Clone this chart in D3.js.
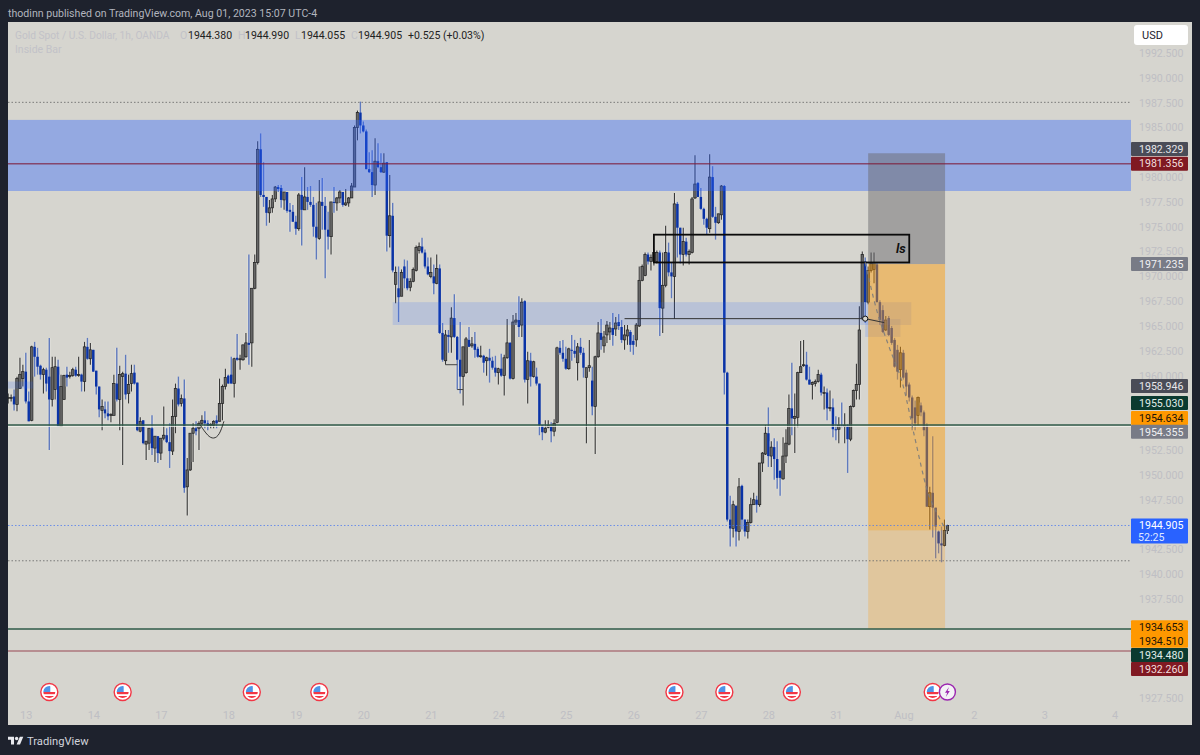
<!DOCTYPE html>
<html>
<head>
<meta charset="utf-8">
<title>XAUUSD 1h</title>
<script src="https://cdn.jsdelivr.net/npm/d3@7"></script>
<style>
  html, body { margin: 0; padding: 0; background: #1e222d; }
  svg { display: block; font-family: Roboto, "Noto Sans", sans-serif; }
</style>
</head>
<body>
<script>
// Set up data: hourly bars
const opens = [
  1957.7,1957.7,1957.9,1957.1,1958.7,1959.7,1960.4,1957.4,1955.5,1962.9,
  1961.9,1961.0,1960.1,1960.6,1959.9,1957.6,1958.6,1960.9,1954.9,1957.6,
  1960.1,1959.9,1960.0,1960.6,1960.0,1960.1,1959.4,1962.9,1961.7,1962.6,
  1960.5,1958.9,1956.5,1956.6,1956.2,1956.0,1956.0,1959.2,1957.6,1959.9,
  1960.2,1958.2,1959.2,1960.3,1959.3,1954.4,1955.5,1953.1,1953.2,1954.7,
  1952.7,1953.9,1952.2,1953.7,1954.0,1953.3,1952.4,1955.9,1958.7,1957.2,
  1957.7,1948.8,1950.5,1954.2,1954.7,1954.7,1955.2,1955.5,1955.2,1955.0,
  1955.0,1955.5,1955.4,1957.2,1958.9,1960.0,1960.1,1959.2,1961.8,1961.6,
  1961.6,1961.9,1963.3,1963.3,1968.8,1971.4,1982.8,1978.2,1978.0,1976.4,
  1976.9,1977.8,1979.0,1978.9,1977.7,1978.5,1976.7,1976.5,1975.5,1974.8,
  1978.2,1976.7,1978.0,1977.5,1977.2,1975.0,1973.8,1977.5,1977.1,1974.7,
  1974.0,1977.5,1977.4,1977.9,1978.5,1977.2,1977.4,1977.9,1979.0,1985.0,
  1986.5,1985.2,1984.6,1980.8,1980.5,1979.2,1981.6,1981.0,1980.5,1981.5,
  1974.1,1976.1,1969.2,1968.8,1968.0,1971.0,1969.8,1968.9,1969.5,1970.6,
  1972.6,1973.0,1972.4,1971.0,1970.0,1970.0,1969.3,1970.8,1964.3,1961.5,
  1964.1,1963.9,1965.8,1963.9,1961.6,1959.9,1960.3,1963.6,1963.0,1963.2,
  1962.7,1961.9,1962.0,1961.5,1961.8,1961.5,1960.8,1960.3,1960.7,1960.0,
  1961.8,1963.3,1959.7,1965.4,1965.6,1965.1,1967.5,1959.6,1961.5,1959.9,
  1959.9,1959.2,1955.0,1954.3,1954.8,1954.9,1954.4,1955.3,1962.8,1962.3,
  1961.7,1960.7,1962.6,1962.5,1961.3,1962.9,1962.3,1959.8,1960.8,1959.5,
  1956.9,1961.9,1964.3,1963.0,1964.1,1964.4,1964.8,1964.7,1965.4,1964.9,
  1963.6,1964.0,1964.4,1963.5,1963.6,1965.0,1969.6,1970.1,1972.2,1971.5,
  1971.5,1971.5,1972.4,1966.8,1969.1,1972.4,1970.4,1970.0,1977.3,1974.9,
  1972.2,1973.5,1972.2,1972.4,1977.9,1979.4,1978.0,1976.8,1975.8,1974.8,
  1980.0,1976.0,1975.4,1976.2,1979.1,1960.3,1945.5,1944.6,1946.9,1944.3,
  1948.9,1945.5,1944.3,1945.2,1947.0,1947.5,1947.0,1951.2,1952.1,1954.2,
  1951.9,1952.8,1951.6,1950.4,1949.6,1951.9,1953.1,1956.7,1955.7,1955.8,
  1960.3,1961.0,1961.1,1959.6,1959.1,1959.2,1959.4,1960.1,1958.2,1958.3,
  1956.7,1956.8,1954.6,1954.6,1955.0,1954.9,1955.0,1953.6,1956.9,1958.5,
  1959.1,1965.8,1971.5,1967.4,1970.6,1970.7,1971.2,1967.4,1966.6,1964.6,
  1965.8,1964.8,1963.6,1962.6,1960.6,1962.3,1960.3,1959.1,1957.8,1956.8,
  1956.0,1957.0,1956.3,1955.0,1946.8,1948.2,1946.7,1944.3,1943.1,1942.9,
  1944.38
];
const highs = [
  1958.2,1958.1,1958.6,1959.9,1961.8,1961.1,1962.3,1958.4,1963.0,1963.4,
  1962.8,1961.1,1960.8,1960.8,1963.8,1961.9,1961.9,1961.6,1960.1,1960.1,
  1960.9,1960.4,1960.8,1960.9,1961.9,1960.2,1963.4,1963.8,1963.3,1962.6,
  1960.5,1958.9,1957.6,1957.4,1957.4,1956.2,1960.1,1962.8,1961.0,1960.4,
  1962.1,1960.1,1961.1,1961.1,1959.3,1955.8,1955.5,1953.4,1954.7,1956.0,
  1953.9,1953.9,1953.7,1956.9,1954.7,1955.2,1957.6,1959.2,1959.9,1958.1,
  1959.6,1951.7,1954.2,1955.2,1955.4,1955.4,1956.0,1956.4,1955.5,1955.2,
  1955.5,1956.0,1959.7,1959.1,1960.7,1960.1,1961.9,1961.8,1964.2,1962.1,
  1963.1,1964.3,1972.2,1968.8,1972.2,1983.6,1984.4,1981.5,1978.0,1977.7,
  1978.2,1979.1,1979.2,1979.2,1978.5,1978.5,1977.4,1977.2,1976.1,1978.4,
  1980.0,1981.0,1979.0,1979.1,1978.0,1977.4,1979.7,1979.9,1978.0,1976.5,
  1977.5,1979.0,1978.0,1978.7,1978.5,1978.8,1978.0,1979.4,1985.2,1986.7,
  1987.6,1985.6,1984.8,1982.5,1982.7,1983.9,1983.4,1982.4,1982.4,1981.5,
  1980.2,1977.4,1971.0,1971.0,1970.7,1971.7,1971.6,1969.8,1970.9,1973.1,
  1973.4,1973.9,1972.7,1971.9,1971.9,1971.2,1972.2,1971.2,1965.3,1964.6,
  1964.6,1966.9,1968.2,1964.0,1965.4,1962.9,1963.9,1964.9,1963.9,1964.4,
  1962.9,1963.0,1962.1,1961.9,1962.7,1961.9,1962.0,1960.8,1962.2,1962.1,
  1965.7,1963.4,1966.1,1966.3,1968.0,1967.8,1967.6,1962.4,1962.3,1961.5,
  1960.8,1959.2,1955.0,1955.5,1955.5,1955.3,1955.6,1962.9,1963.5,1963.6,
  1962.9,1962.8,1964.1,1963.6,1963.3,1963.8,1962.8,1960.8,1963.6,1960.9,
  1962.0,1965.4,1965.7,1964.5,1965.5,1965.4,1966.3,1965.9,1966.2,1965.6,
  1965.1,1965.1,1964.6,1964.1,1965.3,1971.0,1971.2,1972.4,1972.4,1972.2,
  1972.7,1972.6,1972.6,1972.4,1975.1,1973.4,1971.4,1978.4,1977.5,1974.9,
  1974.9,1973.9,1972.7,1978.0,1982.2,1979.5,1978.9,1976.9,1975.9,1982.3,
  1981.1,1977.0,1976.3,1979.2,1979.2,1960.4,1947.9,1947.4,1946.9,1949.7,
  1949.0,1945.5,1945.5,1947.7,1948.2,1947.9,1951.2,1952.3,1955.0,1956.8,
  1953.4,1953.7,1953.4,1950.5,1953.8,1954.6,1958.1,1961.3,1958.2,1960.4,
  1963.5,1963.6,1962.4,1960.9,1959.4,1959.6,1960.6,1960.3,1958.9,1958.7,
  1958.5,1957.7,1955.9,1955.8,1957.3,1956.2,1955.1,1957.0,1958.6,1961.2,
  1967.0,1972.5,1971.9,1971.0,1972.4,1972.4,1971.4,1967.6,1967.1,1966.0,
  1966.0,1965.0,1963.8,1963.1,1962.9,1962.6,1960.6,1959.3,1958.0,1957.5,
  1957.9,1957.3,1956.5,1955.2,1948.8,1953.9,1946.7,1944.4,1944.8,1945.5,
  1944.99
];
const lows = [
  1957.2,1957.4,1956.5,1956.4,1958.7,1958.9,1957.2,1955.4,1955.4,1959.9,
  1960.1,1959.6,1958.2,1958.4,1952.5,1956.9,1957.6,1954.9,1954.9,1957.6,
  1958.9,1959.7,1959.9,1959.9,1959.9,1958.4,1958.4,1961.6,1961.1,1960.4,
  1958.1,1955.8,1954.5,1955.7,1955.5,1955.3,1956.0,1957.4,1954.5,1951.0,
  1957.6,1957.2,1958.4,1959.1,1954.4,1954.3,1953.1,1951.5,1952.5,1952.0,
  1951.3,1951.2,1951.5,1953.5,1953.2,1950.7,1952.0,1954.2,1956.9,1956.9,
  1948.2,1945.9,1950.4,1951.3,1954.0,1952.5,1955.0,1954.7,1954.5,1954.7,
  1954.7,1954.7,1955.4,1955.5,1958.6,1959.2,1959.2,1957.8,1961.5,1960.6,
  1961.5,1961.8,1961.1,1960.9,1968.7,1971.2,1978.0,1977.0,1975.1,1975.4,
  1976.4,1977.5,1978.5,1976.9,1976.7,1976.4,1974.5,1975.5,1974.2,1974.6,
  1973.1,1976.7,1976.7,1977.0,1974.0,1971.7,1973.7,1974.7,1969.8,1972.7,
  1972.2,1976.4,1976.6,1977.4,1977.0,1977.1,1977.0,1977.9,1979.0,1983.7,
  1984.4,1984.5,1980.8,1980.4,1978.0,1978.2,1980.9,1980.4,1980.4,1972.5,
  1972.9,1970.4,1967.3,1965.4,1968.0,1968.8,1968.6,1968.5,1969.4,1970.5,
  1972.3,1972.3,1970.8,1970.1,1969.8,1968.2,1969.2,1964.2,1961.4,1961.1,
  1962.3,1962.3,1963.8,1958.6,1958.2,1957.0,1960.2,1962.9,1962.8,1961.8,
  1961.8,1961.8,1960.3,1960.0,1959.3,1960.6,1959.9,1959.1,1959.9,1958.0,
  1961.7,1959.6,1959.6,1965.1,1963.9,1963.9,1959.3,1957.2,1958.9,1959.8,
  1959.0,1954.0,1953.5,1954.2,1954.7,1953.3,1953.9,1955.2,1962.1,1961.4,
  1960.6,1960.6,1961.5,1961.8,1959.5,1962.1,1959.8,1953.2,1960.4,1956.0,
  1952.1,1961.8,1962.6,1962.3,1963.3,1963.6,1963.0,1964.0,1964.6,1963.3,
  1962.6,1963.1,1962.4,1962.1,1962.9,1964.9,1969.5,1970.0,1971.2,1970.6,
  1971.1,1971.3,1964.0,1964.3,1968.9,1970.0,1967.8,1965.7,1971.9,1971.3,
  1971.1,1972.0,1971.2,1972.3,1977.8,1978.0,1976.7,1975.2,1974.2,1974.4,
  1975.9,1973.7,1975.3,1975.7,1958.1,1945.3,1942.8,1943.7,1942.8,1943.4,
  1944.5,1943.8,1943.6,1945.1,1947.0,1946.2,1946.8,1950.3,1952.0,1950.8,
  1950.8,1949.5,1948.6,1947.9,1949.5,1951.2,1953.0,1954.0,1952.2,1954.8,
  1960.3,1960.9,1959.5,1959.1,1957.6,1958.9,1959.3,1958.0,1956.6,1955.5,
  1956.4,1953.8,1953.5,1953.2,1954.8,1953.2,1950.2,1953.4,1956.8,1957.6,
  1957.6,1965.6,1965.3,1967.2,1970.4,1969.3,1967.4,1965.1,1964.3,1964.5,
  1964.0,1963.1,1960.8,1959.6,1958.8,1959.6,1958.0,1957.4,1954.5,1954.5,
  1955.0,1955.9,1953.9,1946.8,1944.5,1943.7,1941.6,1942.1,1941.2,1942.8,
  1944.055
];
const closes = [
  1957.8,1957.8,1957.1,1959.7,1960.1,1960.4,1957.4,1955.4,1962.9,1961.9,
  1960.9,1960.1,1960.6,1959.2,1957.6,1960.8,1960.9,1954.9,1958.9,1960.0,
  1959.8,1960.0,1960.6,1960.0,1960.1,1959.4,1962.9,1961.7,1962.6,1960.4,
  1958.9,1956.6,1956.9,1956.2,1955.9,1956.1,1959.2,1957.6,1960.1,1960.2,
  1958.1,1959.1,1960.2,1959.2,1954.5,1955.4,1953.2,1953.4,1954.7,1952.7,
  1953.9,1952.2,1953.7,1954.0,1953.3,1952.4,1955.9,1958.7,1957.1,1957.7,
  1948.7,1950.5,1954.2,1954.7,1954.4,1955.2,1955.5,1955.2,1954.9,1955.1,
  1955.4,1955.2,1957.2,1958.9,1959.8,1959.2,1959.2,1961.7,1961.6,1961.7,
  1963.1,1963.3,1963.1,1968.8,1971.4,1982.8,1978.2,1978.0,1976.4,1976.9,
  1977.8,1979.0,1978.8,1977.7,1978.5,1976.6,1976.5,1975.5,1974.8,1978.2,
  1976.7,1978.0,1977.5,1977.2,1975.0,1973.9,1977.5,1977.1,1974.7,1974.0,
  1977.5,1977.4,1977.9,1978.5,1977.2,1977.4,1977.9,1979.1,1985.0,1986.5,
  1985.2,1984.6,1980.8,1980.5,1979.2,1981.6,1981.0,1980.5,1981.4,1974.1,
  1976.1,1970.6,1970.4,1967.9,1970.4,1969.8,1968.8,1969.5,1970.7,1972.9,
  1973.0,1972.4,1971.0,1970.2,1970.4,1969.3,1970.8,1964.3,1961.6,1964.1,
  1963.9,1965.8,1963.9,1961.6,1959.9,1962.9,1963.7,1962.9,1963.2,1962.6,
  1961.9,1962.0,1961.3,1961.8,1961.5,1960.8,1960.3,1960.7,1960.0,1961.8,
  1963.3,1959.7,1965.4,1965.6,1964.9,1967.4,1959.6,1961.5,1959.9,1961.4,
  1959.2,1955.0,1954.3,1954.7,1955.0,1954.4,1955.2,1962.8,1962.3,1961.7,
  1960.7,1962.7,1962.5,1962.2,1962.9,1962.3,1960.8,1960.8,1961.0,1956.9,
  1961.9,1964.3,1963.6,1963.9,1965.1,1964.8,1964.1,1965.3,1965.0,1963.6,
  1964.1,1964.6,1963.1,1963.1,1965.1,1969.6,1971.0,1972.2,1971.5,1971.9,
  1972.4,1972.4,1966.8,1969.1,1972.4,1970.4,1970.0,1977.3,1974.9,1972.2,
  1973.5,1972.2,1972.5,1977.8,1979.3,1978.0,1976.8,1975.8,1974.9,1980.0,
  1976.0,1975.4,1976.3,1979.1,1960.3,1945.5,1944.6,1947.0,1944.3,1948.8,
  1945.5,1944.3,1945.2,1947.0,1947.5,1947.0,1951.2,1952.2,1954.2,1951.9,
  1952.8,1951.6,1949.7,1949.7,1951.9,1953.2,1956.7,1955.7,1955.9,1960.3,
  1960.9,1961.1,1959.6,1959.1,1959.3,1959.4,1960.1,1958.3,1958.3,1956.7,
  1956.8,1954.6,1954.5,1955.0,1954.9,1955.0,1953.6,1956.9,1958.5,1959.1,
  1964.6,1972.2,1967.4,1970.6,1971.3,1971.4,1967.4,1965.6,1964.4,1965.6,
  1964.1,1963.3,1960.9,1960.4,1962.3,1959.8,1958.9,1957.8,1955.7,1955.2,
  1957.8,1956.3,1954.5,1946.8,1948.2,1946.7,1944.8,1943.1,1942.9,1944.4,
  1944.905
];

// Axis ticks, the ones hidden behind price tags are left out
const priceTicks = [1927.5,1937.5,1940,1942.5,1947.5,1950,1952.5,1960,1962.5,1965,1967.5,1970,
  1972.5,1975,1977.5,1980,1985,1987.5,1990,1992.5];
const dayBars = [6,29,52,75,98,121,144,167,190,213,236,259,282,305,329,353,377];
const dayLabels = ['13','14','17','18','19','20','21','24','25','26','27','28','31','Aug','2','3','4'];

// Price tags on the right
const tagValues = [1982.329,1981.356,1971.235,1958.946,1955.030,1954.634,1954.355,1944.905,1934.653,1934.510,1934.480,1932.260];
const tagColors = ['#4a4c57','#801922','#787b86','#4a4c57','#0b3a2f','#ff9800','#787b86','#2962ff','#ff9800','#ff9800','#0b3a2f','#801922'];
const tagInk = ['#e6e6ea','#f2dede','#f0f0f2','#e6e6ea','#e0ece8','#1c1408','#f0f0f2','#ffffff','#1c1408','#1c1408','#e0ece8','#f2dede'];
const tagNudge = [-5,0,0,0,-22,-11,0,0,0,12,26,18];

// Drawn levels and zones, in prices
const mainZone = [1985.76, 1978.6];
const midZone = [1967.4, 1965.1];
const lowerZone = [1965.7, 1963.9];
const leftZone = [1959.4, 1958.7];
const lsBox = [1974.2, 1971.4];
const riskZone = [1982.4, 1971.235];
const rewardZone = [1971.235, 1944.4];
const farZone = [1944.4, 1934.5];
const levelRed = [1981.356, 1932.26];
const levelGreen = [1955.03, 1934.48];
const levelDotted = [1987.53, 1941.35];
const brokenLevel = 1965.74;
const lastPrice = 1944.905;

// Dashed forecast sketch over the short trade
const forecastBars = [292,296,300,305,309,313,317,320];
const forecastPrices = [1971.4,1966.5,1963.0,1958.9,1953.6,1948.6,1945.8,1944.3];

// Calendar event markers
const usEventBars = [14,39,83,106,227,244,267,315];
const boltEventBar = 320;

// Set up dimensions
const width = 1200;
const height = 755;
const pane = { left: 8, top: 22, right: 1192, bottom: 725 };
const plotRight = 1131;

const bars = opens.map((o, i) => ({ i, o, h: highs[i], l: lows[i], c: closes[i] }));

// Set up scales
const x = d3.scaleLinear().domain([0, 320]).range([8.2, 947.4]);
const y = d3.scaleLinear().domain([1937.5, 1992.5]).range([599, 53]);

const svg = d3.select('body').append('svg').attr('width', width).attr('height', height);
svg.append('rect').attr('width', width).attr('height', height).attr('fill', '#1e222d');
svg.append('rect')
  .attr('x', pane.left).attr('y', pane.top)
  .attr('width', pane.right - pane.left).attr('height', pane.bottom - pane.top)
  .attr('fill', '#d6d5cf');

const defs = svg.append('defs');
defs.append('clipPath').attr('id', 'plotClip').append('rect')
  .attr('x', pane.left).attr('y', pane.top).attr('width', plotRight - pane.left).attr('height', pane.bottom - pane.top);
defs.append('clipPath').attr('id', 'flagClip').append('circle').attr('r', 6);

const plot = svg.append('g').attr('clip-path', 'url(#plotClip)');

// Axes
const yAxis = svg.append('g')
  .attr('transform', `translate(${plotRight},0)`)
  .call(d3.axisRight(y).tickValues(priceTicks).tickSize(0).tickPadding(8).tickFormat(d3.format('.3f')));
yAxis.select('.domain').remove();
yAxis.selectAll('text').attr('fill', '#bfbfc4').style('font-size', '10.6px').style('font-family', 'Roboto, sans-serif');

const xAxis = svg.append('g')
  .attr('transform', 'translate(0,708)')
  .call(d3.axisBottom(x).tickValues(dayBars).tickSize(0).tickPadding(3).tickFormat((d, i) => dayLabels[i]));
xAxis.select('.domain').remove();
xAxis.selectAll('text').attr('fill', '#bfbfc4').style('font-size', '11px').style('font-family', 'Roboto, sans-serif');

// Candles
const isUp = d => d.c >= d.o;
const candle = plot.append('g').selectAll('g').data(bars).enter().append('g');
// pale halo behind each candle
candle.append('line')
  .attr('x1', d => x(d.i)).attr('x2', d => x(d.i))
  .attr('y1', d => y(d.h)).attr('y2', d => y(d.l))
  .attr('stroke', '#f2f2ec').attr('stroke-opacity', 0.28).attr('stroke-width', 3.6);
candle.append('line')
  .attr('x1', d => x(d.i)).attr('x2', d => x(d.i))
  .attr('y1', d => y(d.h)).attr('y2', d => y(d.l))
  .attr('stroke', d => isUp(d) ? '#262626' : '#2a50b4')
  .attr('stroke-opacity', d => isUp(d) ? 0.9 : 0.7)
  .attr('stroke-width', d => isUp(d) ? 1.1 : 1.4);
candle.append('rect')
  .attr('x', d => x(d.i) - 1.25)
  .attr('width', 2.5)
  .attr('y', d => y(Math.max(d.o, d.c)))
  .attr('height', d => Math.max(1, Math.abs(y(d.o) - y(d.c))))
  .attr('fill', d => isUp(d) ? '#666666' : '#0a33a6')
  .attr('stroke', d => isUp(d) ? '#1f1f1f' : 'none')
  .attr('stroke-width', 0.7);

// Zones on top of the candles
function zone(x0, x1, band, fill, opacity) {
  plot.append('rect')
    .attr('x', x0).attr('width', x1 - x0)
    .attr('y', y(band[0])).attr('height', y(band[1]) - y(band[0]))
    .attr('fill', fill).attr('fill-opacity', opacity);
}
zone(pane.left, plotRight, mainZone, '#2962ff', 0.38);
zone(x(131), x(307.7), midZone, '#2962ff', 0.17);
zone(x(292), x(304), lowerZone, '#2962ff', 0.17);
zone(pane.left, x(8.5), leftZone, '#2962ff', 0.17);
zone(x(293), x(319.2), riskZone, '#6b6b70', 0.5);
zone(x(293), x(319.2), rewardZone, '#ff9800', 0.45);
zone(x(293), x(319.2), farZone, '#ff9800', 0.24);

// Levels
function level(price, color, w, dash, opacity, shift) {
  plot.append('line')
    .attr('x1', pane.left).attr('x2', plotRight)
    .attr('y1', y(price) + (shift || 0)).attr('y2', y(price) + (shift || 0))
    .attr('stroke', color).attr('stroke-width', w)
    .attr('stroke-dasharray', dash).attr('stroke-opacity', opacity);
}
level(levelGreen[0], '#f4f4ee', 1, null, 0.9, 1.4);
level(levelRed[0], '#7f1d3a', 1.5, null, 0.7);
level(levelRed[1], '#8f2f3f', 1.2, null, 0.85);
level(levelGreen[0], '#2f5a48', 1.4, null, 1);
level(levelGreen[1], '#2f5a48', 1.3, null, 1);
level(levelDotted[0], '#6f6f6f', 1, '1.5 2', 0.9);
level(levelDotted[1], '#6f6f6f', 1, '1.5 2', 0.9);
level(lastPrice, '#4a78f0', 1, '1.5 2', 0.75);

// Hand drawn marks
plot.append('rect')
  .attr('x', x(220)).attr('y', y(lsBox[0]))
  .attr('width', x(307) - x(220)).attr('height', y(lsBox[1]) - y(lsBox[0]))
  .attr('fill', 'none').attr('stroke', '#0b0b0b').attr('stroke-width', 1.8);
plot.append('text')
  .attr('x', x(302.5)).attr('y', y(lsBox[1]) - 9.5)
  .attr('fill', '#111').style('font-size', '13px').style('font-weight', 700).style('font-style', 'italic')
  .text('ls');

plot.append('line')
  .attr('x1', x(210)).attr('x2', x(292))
  .attr('y1', y(brokenLevel)).attr('y2', y(brokenLevel))
  .attr('stroke', '#333').attr('stroke-width', 1);
plot.append('line')
  .attr('x1', x(292)).attr('x2', x(298.5))
  .attr('y1', y(brokenLevel)).attr('y2', y(brokenLevel - 0.4))
  .attr('stroke', '#333').attr('stroke-width', 1);
plot.append('circle')
  .attr('cx', x(292)).attr('cy', y(brokenLevel)).attr('r', 2.6)
  .attr('fill', '#d6d5cf').attr('stroke', '#111').attr('stroke-width', 1);

// Small curve under the Jul 17 base
plot.append('path')
  .attr('d', d3.line().curve(d3.curveBasis).x(d => x(d[0])).y(d => y(d[1]))(
    [[65.5,1955.0],[68,1953.9],[70,1953.6],[72,1954.0],[73.5,1955.4]]))
  .attr('fill', 'none').attr('stroke', '#222').attr('stroke-width', 0.9);

// Little step lines near Jul 21
plot.append('path')
  .attr('d', d3.line().x(d => x(d[0])).y(d => y(d[1]))(
    [[149,1961.1],[153,1961.1]]))
  .attr('fill', 'none').attr('stroke', '#444').attr('stroke-width', 1);
plot.append('path')
  .attr('d', d3.line().x(d => x(d[0])).y(d => y(d[1]))(
    [[153,1958.6],[155,1958.6]]))
  .attr('fill', 'none').attr('stroke', '#444').attr('stroke-width', 1);

// Forecast path
plot.append('path')
  .attr('d', d3.line().curve(d3.curveMonotoneX).x((d, i) => x(forecastBars[i])).y(d => y(d))(forecastPrices))
  .attr('fill', 'none').attr('stroke', '#7b7b7b').attr('stroke-width', 1.2)
  .attr('stroke-dasharray', '4 4').attr('stroke-opacity', 0.9);

// Right side price tags
const tag = svg.append('g').selectAll('g').data(tagValues).enter().append('g')
  .attr('transform', (d, i) => `translate(${plotRight},${y(d) + tagNudge[i]})`);
tag.append('rect')
  .attr('y', -7)
  .attr('width', 57)
  .attr('height', d => d === lastPrice ? 25 : 14)
  .attr('rx', 1)
  .attr('fill', (d, i) => tagColors[i]);
tag.append('text')
  .attr('x', 8).attr('dy', '0.36em')
  .attr('fill', (d, i) => tagInk[i])
  .style('font-size', '10.6px')
  .text(d => d3.format('.3f')(d));
svg.append('text')
  .attr('x', plotRight + 7).attr('y', y(lastPrice) + 15.5)
  .attr('fill', '#dfe8ff').style('font-size', '10.6px')
  .text('52:25');

// USD button
svg.append('rect').attr('x', 1134).attr('y', 25).attr('width', 54).attr('height', 20).attr('rx', 3).attr('fill', '#fff');
svg.append('text').attr('x', 1142).attr('y', 39).attr('fill', '#1e222d').style('font-size', '11px').text('USD');

// Event markers
const flag = svg.append('g').selectAll('g').data(usEventBars).enter().append('g')
  .attr('transform', d => `translate(${x(d)},692)`);
flag.append('circle').attr('r', 8.5).attr('fill', '#fff').attr('stroke', '#f23645').attr('stroke-width', 1.4);
const flagInner = flag.append('g').attr('clip-path', 'url(#flagClip)');
flagInner.append('rect').attr('x', -7).attr('y', -7).attr('width', 14).attr('height', 14).attr('fill', '#fff');
flagInner.append('rect').attr('x', -7).attr('y', 0).attr('width', 14).attr('height', 2.2).attr('fill', '#f23645');
flagInner.append('rect').attr('x', -7).attr('y', 4).attr('width', 14).attr('height', 2.2).attr('fill', '#f23645');
flagInner.append('rect').attr('x', -7).attr('y', -7).attr('width', 8).attr('height', 7).attr('fill', '#4f94e8');

const bolt = svg.append('g').attr('transform', `translate(${x(boltEventBar)},692)`);
bolt.append('circle').attr('r', 8).attr('fill', '#f4f2f6').attr('stroke', '#9c27b0').attr('stroke-width', 1.4);
bolt.append('path').attr('d', 'M1.6,-5 L-2.4,0.8 L-0.2,0.8 L-1.6,5 L2.4,-1 L0.2,-1 Z').attr('fill', '#9c27b0');

// Header, legend and footer text
svg.append('text').attr('x', 8).attr('y', 17).attr('fill', '#b2b5be').style('font-size', '10.6px')
  .text('thodinn published on TradingView.com, Aug 01, 2023 15:07 UTC-4');

const legend = svg.append('g').style('font-size', '10.5px');
legend.append('text').attr('x', 15).attr('y', 39).attr('fill', '#c2c2c8').style('font-size', '10.2px').text('Gold Spot / U.S. Dollar, 1h, OANDA');
legend.append('text').attr('x', 15).attr('y', 53).attr('fill', '#c2c2c8').text('Inside Bar');
const legendLetters = [['O', 180, '1944.380', 188], ['H', 238, '1944.990', 245], ['L', 295, '1944.055', 301], ['C', 351, '1944.905', 358]];
legendLetters.forEach(([letter, lx, value, vx]) => {
  legend.append('text').attr('x', lx).attr('y', 39).attr('fill', '#c2c2c8').text(letter);
  legend.append('text').attr('x', vx).attr('y', 39).attr('fill', '#222').text(value);
});
legend.append('text').attr('x', 408).attr('y', 39).attr('fill', '#222').text('+0.525 (+0.03%)');

const logo = svg.append('g').attr('transform', 'translate(8,735) scale(0.43)').attr('fill', '#e8e9ee');
logo.append('path').attr('d', 'M14 22H7V11H0V4h14v18zM28 22h-8l7.5-18h8L28 22z');
logo.append('circle').attr('cx', 20).attr('cy', 8).attr('r', 4);
svg.append('text').attr('x', 27).attr('y', 745).attr('fill', '#d1d4dc').style('font-size', '11.2px').text('TradingView');
</script>
</body>
</html>
